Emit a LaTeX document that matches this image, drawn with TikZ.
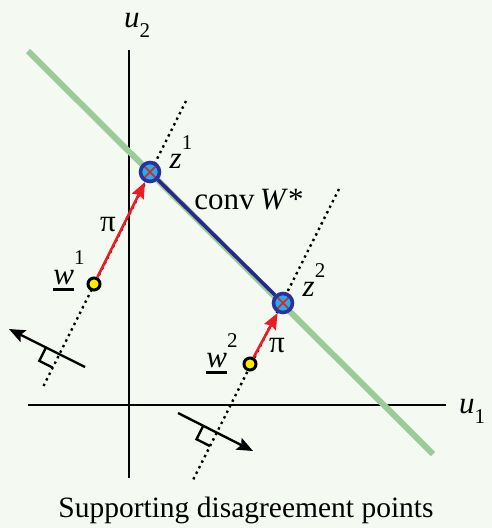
\documentclass[tikz,border=0pt]{standalone}
\usepackage{fontspec}
\setmainfont{Liberation Serif}
\usetikzlibrary{arrows.meta,calc}
\definecolor{bgc}{RGB}{244,249,241}
\definecolor{suppgreen}{RGB}{155,202,155}
\definecolor{convblue}{RGB}{38,40,140}
\definecolor{zring}{RGB}{40,50,160}
\definecolor{zfill}{RGB}{30,175,230}
\definecolor{pired}{RGB}{236,28,36}
\definecolor{wyel}{RGB}{255,236,0}
\newcommand{\supn}[1]{\raisebox{0.62em}{\fontsize{21}{23}\selectfont #1}}
\newcommand{\subn}[1]{\raisebox{-0.32em}{\fontsize{21}{23}\selectfont #1}}
\newcommand{\ulw}{\vtop{\hbox{\textit{w}}\kern4pt\hrule height 2.6pt}}
\tikzset{
  axline/.style={line width=2.4pt},
  suppline/.style={line width=2.4pt,dash pattern=on 2.4pt off 3.8pt},
  perp/.style={line width=2.4pt,-{Stealth[length=16pt,width=13pt,inset=3pt]}},
  rbox/.style={line width=2.4pt},
  piarrow/.style={line width=2.6pt,pired,-{Stealth[length=16pt,width=13pt,inset=2pt]}},
  zpt/.style={circle,draw=zring,line width=3.6pt,fill=zfill,minimum size=19pt,inner sep=0pt,
    path picture={\draw[pired,line width=1.6pt]
      (path picture bounding box.south west) -- (path picture bounding box.north east)
      (path picture bounding box.north west) -- (path picture bounding box.south east);}},
  wpt/.style={circle,draw=black,line width=3pt,fill=wyel,minimum size=12pt,inner sep=0pt},
  lbl/.style={inner sep=0pt,font=\fontsize{31}{34}\selectfont},
}

\begin{document}
\begin{tikzpicture}[x=1pt,y=-1pt]
  \fill[bgc,use as bounding box] (0,0) rectangle (492,528);
  % axes and supporting line
  \draw[axline] (28,405) -- (446,405);
  \draw[axline] (129,50) -- (129,478);
  \draw[suppgreen,line width=6pt] (28,51) -- (433,454);
  \node[lbl] (lu2) at (137,25) {\textit{u}\subn{2}};
  \node[lbl] (lu1) at (472,411) {\textit{u}\subn{1}};
  % dotted lines and normals
  \coordinate (d1a) at (186,101); \coordinate (d1b) at (43,387);
  \coordinate (d2a) at (339,189); \coordinate (d2b) at (193,480);
  \draw[suppline] (d1a) -- (d1b);
  \draw[suppline] (d2a) -- (d2b);
  \coordinate (p1s) at (85,367); \coordinate (p1t) at (9,329);
  \coordinate (p2s) at (178,413); \coordinate (p2t) at (253,451);
  \draw[perp] (p1s) -- (p1t);
  \draw[perp] (p2s) -- (p2t);
  \coordinate (i1) at (59.4,354.2); \coordinate (i2) at (216.6,432.6);
  \draw[rbox] ($(i1)!15pt!(p1t)$) -- ($(i1)!15pt!(p1t)+(i1)!15pt!(d1b)-(i1)$) -- ($(i1)!15pt!(d1b)$);
  \draw[rbox] ($(i2)!15pt!(p2s)$) -- ($(i2)!15pt!(p2s)+(i2)!15pt!(d2b)-(i2)$) -- ($(i2)!15pt!(d2b)$);
  % points
  \node[zpt] (z1) at (150,172) {};
  \node[zpt] (z2) at (283,303) {};
  \node[wpt] (w1) at (94,284) {};
  \node[wpt] (w2) at (250,364) {};
  \draw[convblue,line width=3.6pt] (z1) -- (z2);
  \draw[piarrow] (w1) -- (z1);
  \draw[piarrow] (w2) -- (z2);
  \node[lbl] (lz1) at (181,152) {\textit{z}\supn{1}};
  \node[lbl] (lz2) at (314,280) {\textit{z}\supn{2}};
  \node[lbl] (lconv) at (249,200) {conv\,\textit{W}*};
  \node[lbl] (lpi1) at (108,225) {π};
  \node[lbl] (lpi2) at (277,346) {π};
  \node[lbl] (lw1) at (69,271) {\ulw\supn{1}};
  \node[lbl] (lw2) at (222,354) {\ulw\supn{2}};
  \node[lbl,font=\fontsize{29.5}{32}\selectfont] (cap) at (246,510) {Supporting disagreement points};
\end{tikzpicture}
\end{document}
